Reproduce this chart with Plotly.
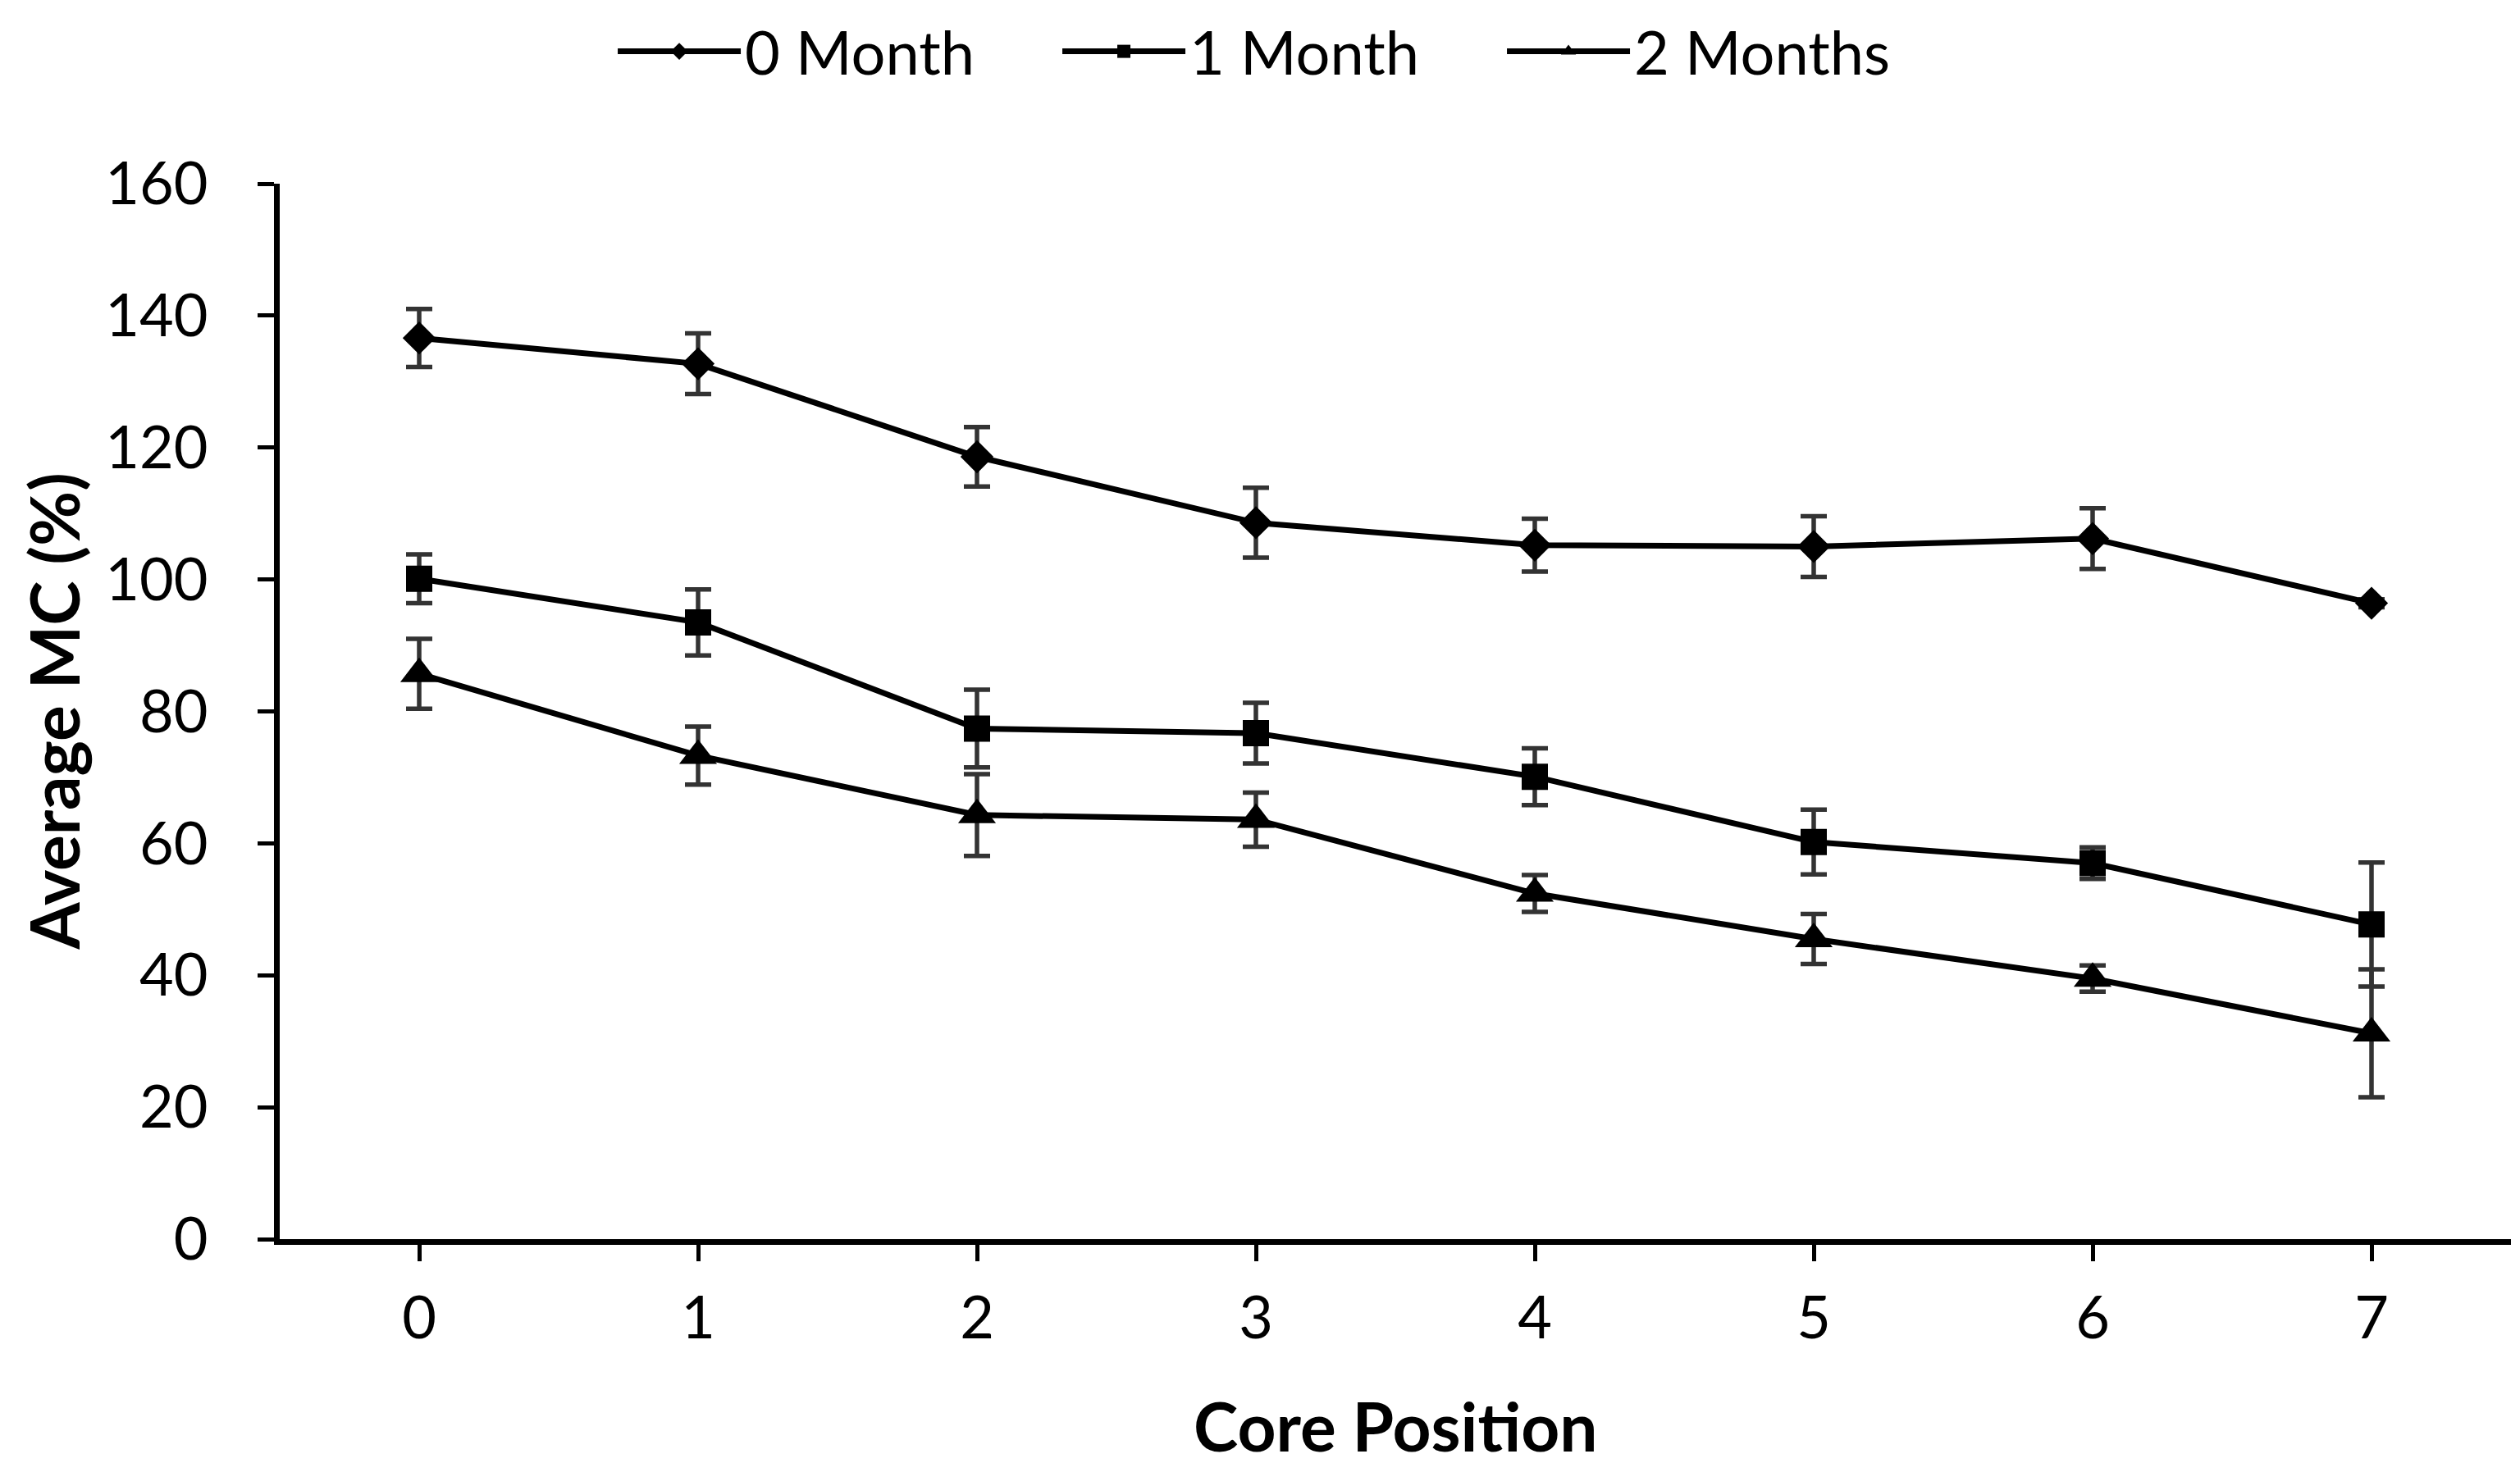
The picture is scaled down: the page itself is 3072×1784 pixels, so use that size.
import plotly.graph_objects as go

positions = [0, 1, 2, 3, 4, 5, 6, 7]
series_names = ["0 Month", "1 Month", "2 Months"]
mc_0 = [136.6, 132.7, 118.6, 108.6, 105.2, 105.0, 106.2, 96.4]
err_0 = [4.4, 4.6, 4.5, 5.3, 4.0, 4.6, 4.6, 0.6]
mc_1 = [100.1, 93.5, 77.4, 76.7, 70.1, 60.2, 57.0, 47.7]
err_1 = [3.7, 5.0, 5.9, 4.6, 4.3, 4.9, 2.4, 9.4]
mc_2 = [85.7, 73.3, 64.3, 63.6, 52.4, 45.5, 39.5, 31.2]
err_2 = [5.3, 4.4, 6.2, 4.1, 2.8, 3.8, 2.0, 9.7]
y_ticks = [0, 20, 40, 60, 80, 100, 120, 140, 160]
x_title = "Core Position"
y_title = "Average MC (%)"

symbols = ["diamond", "square", "triangle-up"]
sizes = [31, 32, 40]
values = [mc_0, mc_1, mc_2]
errors = [err_0, err_1, err_2]

FONT = "Lato"
fig = go.Figure()
for name, vals, errs, sym, sz in zip(series_names, values, errors, symbols, sizes):
    fig.add_trace(go.Scatter(
        x=positions, y=vals, name=name, mode="lines+markers",
        line=dict(color="black", width=7),
        marker=dict(symbol=sym, size=sz, color="black"),
        error_y=dict(type="data", array=errs, visible=True,
                     color="#333333", thickness=5.5, width=16),
    ))

fig.update_layout(
    width=3072, height=1784,
    paper_bgcolor="white", plot_bgcolor="white",
    margin=dict(l=333, r=19, t=216, b=281),
    font=dict(family=FONT, color="black", size=72),
    showlegend=True,
    legend=dict(orientation="h", xref="container", x=0.2409, xanchor="left",
                yref="container", y=1.0, yanchor="top",
                font=dict(size=74, family=FONT),
                itemwidth=150, entrywidth=377, entrywidthmode="pixels",
                tracegroupgap=0),
    xaxis=dict(
        range=[-0.5, 7.5], tickmode="array", tickvals=positions,
        showgrid=False, zeroline=False,
        showline=True, linecolor="black", linewidth=7,
        ticks="outside", ticklen=20, tickwidth=5, tickcolor="black",
        tickfont=dict(size=72, family=FONT),
        ticklabelstandoff=8,
    ),
    yaxis=dict(
        range=[0, 160], tickmode="array", tickvals=y_ticks,
        showgrid=False, zeroline=False,
        showline=True, linecolor="black", linewidth=7,
        ticks="outside", ticklen=20, tickwidth=5, tickcolor="black",
        tickfont=dict(size=72, family=FONT),
        ticklabelstandoff=46,
    ),
    annotations=[
        dict(text="<b>" + x_title + "</b>", xref="paper", yref="paper",
             x=0.5, y=-0.176, xanchor="center", yanchor="middle",
             borderpad=0, showarrow=False,
             font=dict(size=82, family=FONT, color="black")),
        dict(text="<b>" + y_title + "</b>", xref="paper", yref="paper",
             x=-0.1015, y=0.5, xanchor="center", yanchor="middle",
             textangle=-90, borderpad=0, showarrow=False,
             font=dict(size=82, family=FONT, color="black")),
    ],
)

fig.write_html("out.html")
